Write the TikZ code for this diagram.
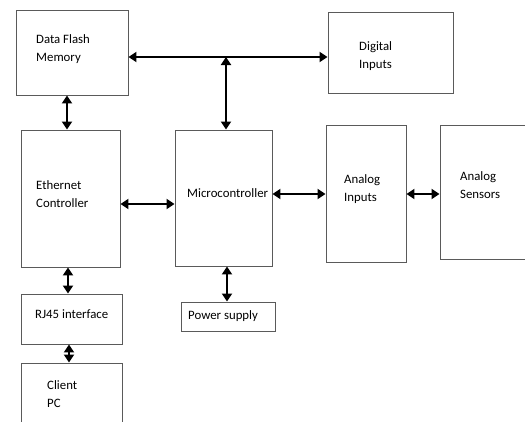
\documentclass[tikz,border=0pt]{standalone}
\usepackage{fontspec}
\setmainfont{Carlito}
\definecolor{boxGray}{HTML}{5A5A5A}
\usetikzlibrary{arrows.meta, positioning}

\begin{document}
\begin{tikzpicture}[x=1pt, y=-1pt,
    block/.style={draw=boxGray, line width=0.9pt, inner sep=0pt},
    txt/.style={anchor=base west, inner sep=0pt, align=left,
      font=\fontsize{12.8}{17.5}\selectfont},
    link/.style={line width=1.9pt, {Triangle[length=8pt,width=10pt]}-{Triangle[length=8pt,width=10pt]}}]
        \useasboundingbox (0,0) rectangle (525,421);
        \clip (0,0) rectangle (525,421);

        % Blocks
        \node[block, minimum width=112, minimum height=85] (flash) at (72,52.5) {};
        \node[block, minimum width=125, minimum height=81] (digital) at (390.5,52.5) {};
        \node[block, minimum width=99, minimum height=137] (eth) at (70.5,198.5) {};
        \node[block, minimum width=97, minimum height=136] (micro) at (223.5,198) {};
        \node[block, minimum width=80, minimum height=137] (ain) at (366,193.5) {};
        \node[block, minimum width=120, minimum height=134] (asens) at (500,192) {};
        \node[block, minimum width=101, minimum height=50] (rj45) at (71.5,319) {};
        \node[block, minimum width=101, minimum height=78] (pc) at (71.5,402) {};
        \node[block, minimum width=94, minimum height=29] (power) at (228,316.5) {};

        % Labels (base = last line)
        \node[txt] (flashtxt) at (36,61) {Data Flash\\Memory};
        \node[txt] (digitaltxt) at (359,68) {Digital\\Inputs};
        \node[txt] (ethtxt) at (36,207) {Ethernet\\Controller};
        \node[txt] (microtxt) at (187,197) {Microcontroller};
        \node[txt] (aintxt) at (344,201) {Analog\\Inputs};
        \node[txt] (asenstxt) at (460,198) {Analog\\Sensors};
        \node[txt] (rj45txt) at (35,318) {RJ45 interface};
        \node[txt] (pctxt) at (47,407) {Client\\PC};
        \node[txt] (powertxt) at (188,319) {Power supply};

        % Bus to the microcontroller
        \coordinate (jn) at (226,57);
        \draw[link] ([yshift=-4.5pt]flash.east) -- ([yshift=-4.5pt]flash.east -| digital.west);
        \draw[link] (jn) -- (jn |- micro.north);

        % Links
        \draw[link] ([xshift=-5pt]flash.south) -- ([xshift=-5pt]flash.south |- eth.north);
        \draw[link] ([yshift=-5.5pt]eth.east) -- ([yshift=-5.5pt]eth.east -| micro.west);
        \draw[link] ([yshift=4pt]micro.east) -- ([yshift=4pt]micro.east -| ain.west);
        \draw[link] ([yshift=4pt]micro.east -| ain.east) -- ([yshift=4pt]micro.east -| asens.west);
        \draw[link] ([xshift=-2.5pt]eth.south) -- ([xshift=-2.5pt]eth.south |- rj45.north);
        \draw[link] ([xshift=-2.5pt]rj45.south) -- ([xshift=-2.5pt]rj45.south |- pc.north);
        \draw[link] ([xshift=3.5pt]micro.south) -- ([xshift=3.5pt]micro.south |- power.north);
    \end{tikzpicture}
\end{document}
